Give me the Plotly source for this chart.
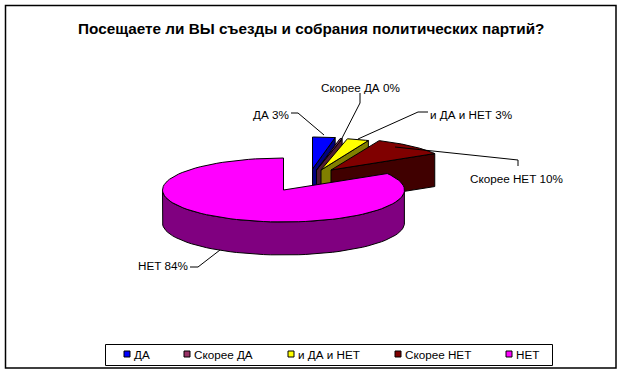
import math
import plotly.graph_objects as go

title = "Посещаете ли ВЫ съезды и собрания политических партий?"
categories = ["ДА", "Скорее ДА", "и ДА и НЕТ", "Скорее НЕТ", "НЕТ"]
values = [3.0, 0.4, 3.0, 10.0, 83.6]
shown_percent = ["3%", "0%", "3%", "10%", "84%"]

top_colors = ["#0000FF", "#993366", "#FFFF00", "#800000", "#FF00FF"]
side_colors = ["#000080", "#4D1A33", "#808000", "#400000", "#800080"]

# chart geometry in pixels
CX, CY, RX, RY, DEPTH = 283.5, 190.0, 121.0, 32.0, 33.0
explode = [(29, -21), (33, -20), (37.5, -20), (47.5, -20), (0, 0)]
label_pos = [(271, 114), (360, 87), (471, 114), (516, 178), (163, 265)]
leaders = [
    [(291, 113), (298, 113), (324, 135)],
    [(360, 93), (360, 103), (340, 142)],
    [(428, 112), (418, 112), (358, 139)],
    [(395, 147), (518, 160), (518, 166)],
    [(190, 267), (198, 267), (220, 250)],
]
legend_x = [127, 187, 291, 398, 509]
LEGEND_Y = 354
FS = 11.7


def pt(deg, ox, oy, dz=0):
    a = math.radians(deg)
    return CX + ox + RX * math.sin(a), CY + oy - RY * math.cos(a) + dz


def poly(points, fill):
    xs = [p[0] for p in points] + [points[0][0]]
    ys = [p[1] for p in points] + [points[0][1]]
    return go.Scatter(x=xs, y=ys, mode="lines", fill="toself", fillcolor=fill,
                      line=dict(color="black", width=1), hoverinfo="skip", showlegend=False)


fig = go.Figure()
total = sum(values)
start = 0.0
for i, v in enumerate(values):
    end = start + v / total * 360
    ox, oy = explode[i]
    arc = [start + (end - start) * k / 90 for k in range(91)]
    apex = (CX + ox, CY + oy)
    # flat cut face at the end of the slice, visible for slices ending before 90 deg
    if end < 180:
        e = pt(end, ox, oy)
        e2 = pt(end, ox, oy, DEPTH)
        fig.add_trace(poly([apex, e, e2, (apex[0], apex[1] + DEPTH)], side_colors[i]))
    # outer rim, front half only
    front = [a for a in arc if 90 <= a <= 270]
    if front:
        rim = [pt(a, ox, oy) for a in front] + [pt(a, ox, oy, DEPTH) for a in reversed(front)]
        fig.add_trace(poly(rim, side_colors[i]))
    fig.add_trace(poly([apex] + [pt(a, ox, oy) for a in arc], top_colors[i]))
    start = end

# leader lines
for line in leaders:
    fig.add_trace(go.Scatter(x=[p[0] for p in line], y=[p[1] for p in line], mode="lines",
                             line=dict(color="black", width=1), hoverinfo="skip", showlegend=False))

# legend row
for c, col, x in zip(categories, top_colors, legend_x):
    fig.add_trace(go.Scatter(x=[x], y=[LEGEND_Y], mode="markers", name=c,
                             marker=dict(symbol="square", size=6, color=col, line=dict(color="black", width=1)),
                             showlegend=False))

ann = [dict(x=x, y=y, text=f"{c} {p}", showarrow=False, xanchor="center", yanchor="middle",
            font=dict(family="Liberation Sans", size=FS, color="black"))
       for c, p, (x, y) in zip(categories, shown_percent, label_pos)]
ann += [dict(x=x + 5, y=LEGEND_Y, text=c, showarrow=False, xanchor="left", yanchor="middle",
             font=dict(family="Liberation Sans", size=FS, color="black"))
        for c, x in zip(categories, legend_x)]
ann.append(dict(x=311, y=28, text=f"<b>{title}</b>", showarrow=False, xanchor="center", yanchor="middle",
                font=dict(family="Liberation Sans", size=15.3, color="black")))

fig.update_layout(
    width=623, height=374, margin=dict(l=0, r=0, t=0, b=0),
    paper_bgcolor="white", plot_bgcolor="white", showlegend=False,
    xaxis=dict(range=[0, 623], visible=False, fixedrange=True),
    yaxis=dict(range=[374, 0], visible=False, fixedrange=True),
    annotations=ann,
    shapes=[
        dict(type="rect", x0=5.5, y0=5.5, x1=616, y1=368, line=dict(color="black", width=1.5), layer="below"),
        dict(type="rect", x0=105.5, y0=344.5, x1=552.5, y1=365.5, line=dict(color="black", width=1), layer="below"),
    ],
)
fig.write_html("out.html", config=dict(displayModeBar=False),
               post_script="document.body.style.margin='0';document.body.style.overflow='hidden';")
